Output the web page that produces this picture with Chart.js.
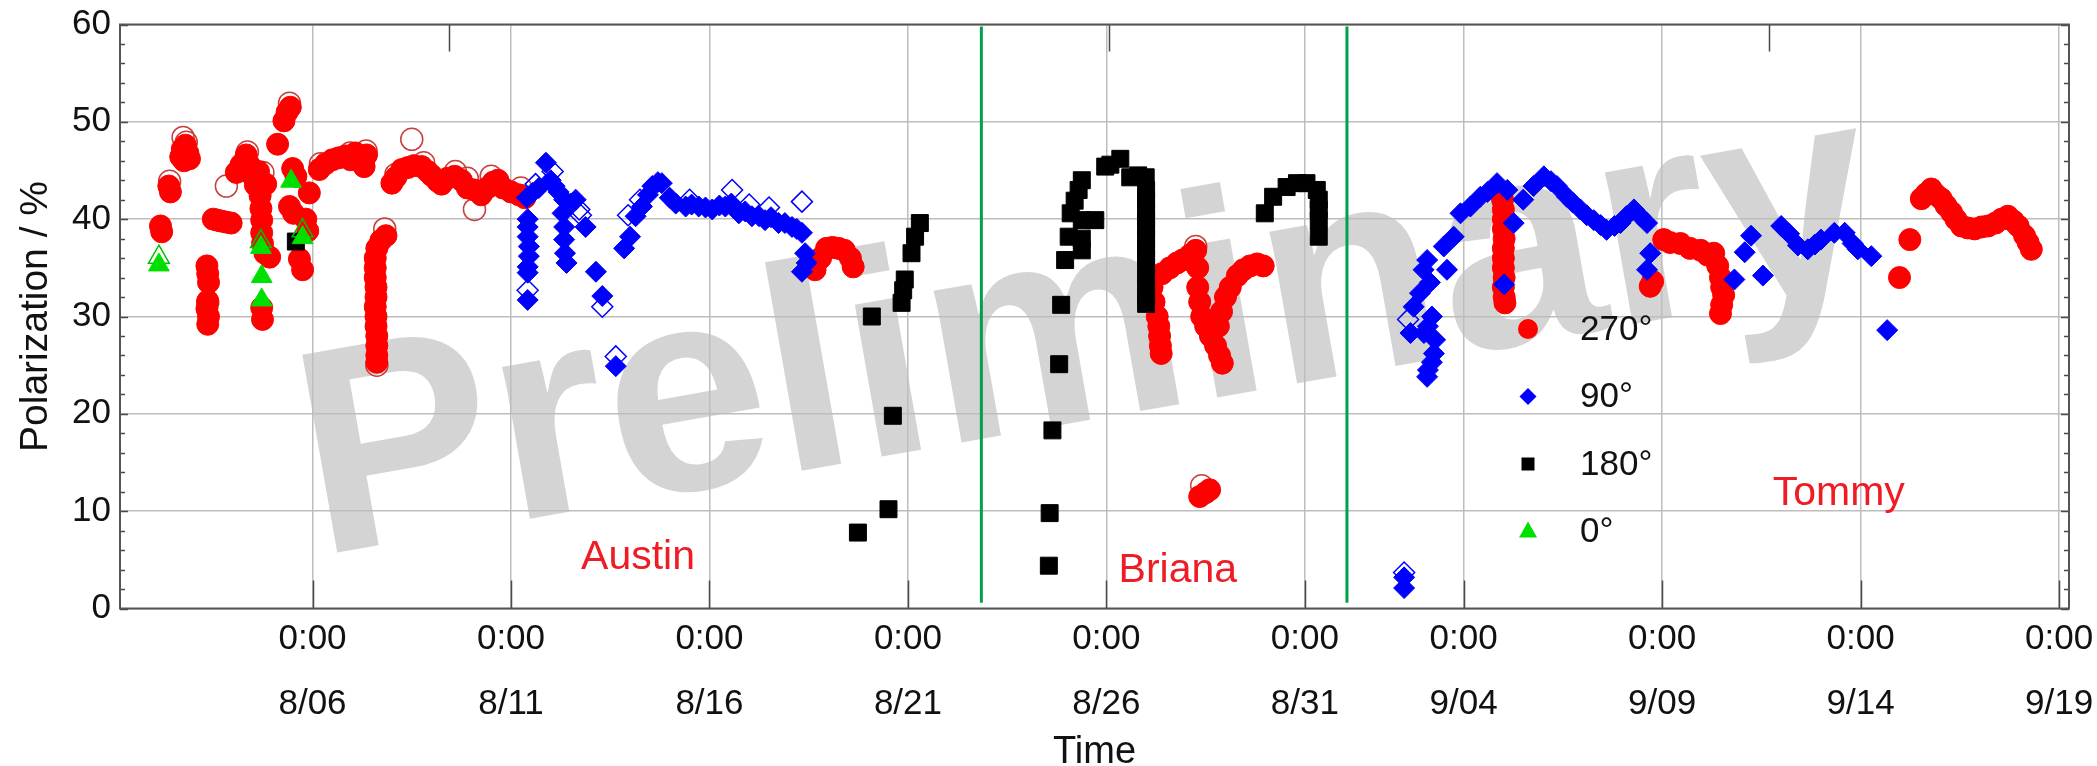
<!DOCTYPE html>
<html>
<head>
<meta charset="utf-8">
<title>Polarization vs time</title>
<script src="https://cdn.jsdelivr.net/npm/chart.js@4.4.1/dist/chart.umd.min.js"></script>
<style>
  html, body { margin: 0; padding: 0; background: #fff; overflow: hidden; }
  canvas { display: block; }
</style>
</head>
<body>
<canvas id="chart" width="2097" height="766"></canvas>
<script>
// Time axis: days counted from 1 August (8/06 -> 6, 9/04 -> 35)
const tickDays  = [6, 11, 16, 21, 26, 31, 35, 40, 45, 50];
const tickDates = ['8/06', '8/11', '8/16', '8/21', '8/26', '8/31', '9/04', '9/09', '9/14', '9/19'];
const tickTime  = '0:00';
const topTickDays = [9.43, 26.06, 42.68];
const boundaryDays = [22.85, 32.06];
const observers = ['Austin', 'Briana', 'Tommy'];
const seriesLabels = ['270°', '90°', '180°', '0°'];

// [day, polarization %]
const pol270 = [
  [2.17,39.3],[2.2,38.7],[2.38,43.4],[2.42,42.8],
  [2.68,46.4],[2.72,47.2],[2.76,46.0],[2.8,47.6],[2.86,46.8],[2.9,46.2],
  [3.34,35.2],[3.36,34.4],[3.38,33.5],[3.36,31.6],[3.34,30.8],[3.38,30.0],[3.36,29.2],
  [3.5,40.0],[3.6,39.9],[3.7,39.8],[3.82,39.7],[3.95,39.6],
  [4.08,44.8],[4.2,45.6],[4.33,46.6],[4.42,45.5],[4.5,44.4],[4.56,43.5],
  [4.64,44.9],[4.66,43.6],[4.68,42.4],[4.7,41.1],[4.72,39.9],[4.72,38.6],[4.74,37.5],[4.8,36.5],[4.92,36.1],[4.72,30.9],[4.74,29.7],[4.82,43.6],
  [5.12,47.7],[5.28,50.1],[5.36,51.0],[5.44,51.5],[5.42,41.3],[5.52,40.6],[5.58,44.4],[5.5,45.2],[5.67,35.9],[5.75,34.8],[5.83,40.0],[5.92,42.7],[5.88,38.8],
  [6.17,45.1],[6.33,45.7],[6.5,46.1],[6.66,46.3],[6.83,46.5],[6.96,46.1],[7.08,46.8],[7.2,46.0],[7.3,45.4],[7.36,46.6],
  [7.85,38.3],[7.72,37.8],[7.62,37.0],[7.58,36.0],[7.58,35.0],[7.58,34.0],[7.6,33.0],[7.6,32.0],[7.58,31.0],[7.6,30.0],[7.6,29.0],[7.62,28.0],[7.62,27.0],[7.62,26.0],[7.62,25.3],
  [8.0,43.7],[8.1,44.3],[8.25,45.1],[8.4,45.3],[8.55,45.5],[8.75,45.4],[8.9,44.9],[9.0,44.5],[9.15,43.9],[9.25,43.6],[9.4,44.2],[9.58,44.4],[9.75,44.0],[9.9,43.2],[10.08,43.0],[10.25,42.5],[10.4,43.2],[10.55,43.8],[10.67,44.0],[10.8,43.2],[11.0,42.8],[11.2,42.5],[11.35,42.2],
  [18.66,34.8],[18.8,36.0],[18.95,37.0],[19.1,37.1],[19.25,37.0],[19.4,36.8],[19.55,36.0],[19.62,35.1],
  [27.15,33.0],[27.2,31.5],[27.28,30.0],[27.32,29.0],[27.34,28.0],[27.36,27.0],[27.38,26.2],[27.4,34.4],[27.6,35.0],[27.78,35.5],[27.92,35.8],[28.1,36.3],[28.25,36.8],
  [28.3,35.0],[28.3,33.0],[28.35,31.5],[28.4,30.0],[28.5,29.0],[28.62,28.0],[28.75,27.0],[28.85,26.0],[28.92,25.2],
  [28.82,29.0],[28.9,30.5],[29.0,32.0],[29.12,33.0],[29.3,34.2],[29.45,34.8],[29.62,35.2],[29.8,35.4],[29.95,35.2],
  [28.35,11.5],[28.5,11.9],[28.6,12.2],
  [35.98,42.0],[36.0,41.0],[36.0,40.0],[36.0,39.0],[36.02,38.0],[36.0,37.0],[36.0,36.0],[36.0,35.0],[36.02,34.0],[36.0,33.0],[36.02,32.0],[36.04,31.4],
  [39.7,33.1],[39.76,33.6],
  [40.04,37.9],[40.2,37.6],[40.46,37.5],[40.7,37.0],[40.97,36.8],[41.15,36.3],[41.3,36.5],[41.4,35.2],[41.47,34.0],[41.5,33.0],[41.55,32.2],[41.5,31.2],[41.47,30.3],
  [45.98,34.0],[46.24,37.9],[46.53,42.1],[46.65,42.6],[46.78,43.1],[46.9,42.5],[47.03,42.1],[47.15,41.4],[47.29,40.7],[47.4,40.0],[47.54,39.3],[47.7,39.1],[47.87,39.0],
  [48.05,39.2],[48.21,39.3],[48.4,39.6],[48.55,40.0],[48.71,40.3],[48.85,39.8],[48.97,39.3],[49.13,38.3],[49.22,37.6],[49.3,36.9]
];
const pol270Open = [
  [2.4,43.9],[2.74,48.4],[2.82,47.9],[3.36,31.4],[3.83,43.4],[4.36,46.9],[4.75,44.8],[5.42,51.9],
  [6.2,45.7],[6.95,46.8],[7.35,47.0],[7.82,39.0],[7.62,25.0],[8.1,44.6],[8.5,48.2],[8.8,45.8],
  [9.6,44.9],[9.9,44.2],[10.08,41.0],[10.5,44.4],[11.25,43.2],[28.25,37.2],[28.4,12.6]
];
const pol90 = [
  [11.4,42.2],[11.54,42.7],[11.7,43.2],[11.88,45.8],[12.0,44.0],[12.1,43.4],[12.2,42.8],[12.34,42.0],
  [11.42,40.0],[11.42,39.2],[11.42,38.2],[11.45,37.2],[11.45,36.2],[11.42,35.1],[11.42,34.5],[11.42,31.7],
  [12.3,40.6],[12.34,39.2],[12.34,37.9],[12.36,36.5],[12.4,35.5],
  [12.5,41.6],[12.63,42.0],[12.88,39.2],[13.14,34.6],[13.3,32.1],[13.64,24.9],
  [13.85,37.0],[14.0,38.2],[14.14,40.3],[14.3,41.3],[14.45,42.5],[14.56,43.4],[14.7,43.8],[14.8,43.7],
  [15.0,42.2],[15.15,41.6],[15.4,41.3],[15.55,41.5],[15.73,41.3],[15.9,41.2],[16.07,41.0],[16.25,41.4],[16.4,41.3],[16.55,41.6],
  [16.74,40.6],[16.9,40.8],[17.07,40.3],[17.25,40.3],[17.4,39.9],[17.55,40.2],[17.74,39.6],[17.9,39.6],[18.08,39.2],[18.2,39.0],
  [18.33,38.6],[18.41,36.5],[18.45,35.5],[18.33,34.6],
  [33.5,3.2],[33.5,2.1],
  [34.08,23.8],[34.1,24.5],[34.2,25.3],[34.25,26.2],[34.28,27.6],[34.0,28.3],[33.66,28.3],[34.2,30.0],[34.1,29.0],[33.74,31.0],
  [33.9,32.4],[34.15,33.5],[33.99,34.8],[34.08,35.8],[34.58,34.8],[34.5,37.2],[34.75,38.2],[34.92,40.6],[35.17,41.3],[35.42,42.3],
  [35.6,42.8],[35.84,43.7],[36.1,43.0],[36.26,39.6],[36.02,33.3],[36.5,42.0],[36.76,43.4],[37.02,44.4],[37.2,43.9],[37.35,43.4],
  [37.6,42.3],[37.75,41.7],[37.94,41.0],[38.1,40.4],[38.28,39.9],[38.45,39.4],[38.6,38.9],[38.8,39.3],[38.95,39.6],[39.1,40.3],
  [39.29,41.0],[39.45,40.3],[39.62,39.6],[39.7,36.5],[39.62,34.8],
  [41.82,33.8],[42.08,36.6],[42.24,38.3],[42.54,34.2],[43.0,39.3],[43.2,38.5],[43.42,37.3],[43.67,36.9],[43.85,37.4],[44.0,37.9],
  [44.34,38.6],[44.6,38.6],[44.8,37.5],[44.93,36.9],[45.27,36.2],[45.67,28.6]
];
const pol90Open = [
  [11.42,32.7],[11.62,43.6],[12.05,44.9],[12.72,41.0],[12.76,40.4],[13.3,31.0],[13.64,25.9],[13.95,40.4],
  [14.25,42.0],[15.5,42.0],[16.57,43.0],[17.0,41.5],[17.5,41.2],[18.33,41.8],[33.6,29.7],[33.5,3.7]
];
const pol180 = [
  [5.58,37.7],
  [19.74,7.8],[20.09,30.0],[20.51,10.2],[20.62,19.8],[20.84,31.4],[20.88,32.7],[20.92,33.8],[21.09,36.5],[21.18,38.2],[21.3,39.6],
  [24.55,4.4],[24.57,9.8],[24.64,18.3],[24.81,25.1],[24.86,31.2],[24.96,35.8],[25.05,38.2],[25.1,40.6],[25.2,41.9],[25.3,43.0],
  [25.38,44.0],[25.38,39.9],[25.38,36.8],[25.38,38.0],[25.72,39.9],[25.97,45.4],[26.1,45.6],[26.35,46.2],[26.6,44.3],[26.8,44.5],
  [26.99,44.3],[27.0,43.0],[27.0,42.0],[27.0,41.0],[27.0,40.0],[27.0,39.0],[27.0,38.0],[27.0,37.0],[27.0,36.0],[27.0,35.0],
  [27.0,34.0],[27.0,33.0],[27.0,32.0],[27.0,31.3],
  [29.99,40.6],[30.2,42.3],[30.54,43.3],[30.8,43.7],[31.04,43.7],[31.3,43.0],[31.35,42.0],[31.35,41.0],[31.35,39.9],[31.35,38.2]
];
const pol0 = [[2.13,35.3],[4.7,37.1],[4.72,34.1],[4.72,31.7],[5.46,43.9],[5.75,38.1]];
const pol0Open = [[2.13,36.1],[4.7,37.7],[5.75,38.8]];

const FONT = '"Liberation Sans", Arial, Helvetica, sans-serif';
const toPts = arr => arr.map(([x, y]) => ({ x, y }));

const RED = '#ff0000', BLUE = '#0000ff', BLACK = '#000000', GREEN = '#00e000';

const datasets = [
  { label: seriesLabels[3], data: toPts(pol0), pointStyle: 'triangle', pointRadius: 12,
    backgroundColor: GREEN, borderColor: GREEN, borderWidth: 1, order: 0, inLegend: true },
  { label: seriesLabels[3] + ' (open)', data: toPts(pol0Open), pointStyle: 'triangle', pointRadius: 12,
    backgroundColor: 'rgba(0,0,0,0)', borderColor: '#00c000', borderWidth: 1.5, order: 1 },
  { label: seriesLabels[2], data: toPts(pol180), pointStyle: 'rect', pointRadius: 12,
    backgroundColor: BLACK, borderColor: BLACK, borderWidth: 1, order: 2, inLegend: true },
  { label: seriesLabels[1], data: toPts(pol90), pointStyle: 'rectRot', pointRadius: 10.5,
    backgroundColor: BLUE, borderColor: BLUE, borderWidth: 1, order: 3, inLegend: true },
  { label: seriesLabels[1] + ' (open)', data: toPts(pol90Open), pointStyle: 'rectRot', pointRadius: 10.5,
    backgroundColor: 'rgba(0,0,0,0)', borderColor: BLUE, borderWidth: 1.5, order: 4 },
  { label: seriesLabels[0], data: toPts(pol270), pointStyle: 'circle', pointRadius: 11,
    backgroundColor: RED, borderColor: RED, borderWidth: 1, order: 5, inLegend: true },
  { label: seriesLabels[0] + ' (open)', data: toPts(pol270Open), pointStyle: 'circle', pointRadius: 11,
    backgroundColor: 'rgba(0,0,0,0)', borderColor: '#c8403c', borderWidth: 1.5, order: 6 }
];
// observer hand-over boundaries
boundaryDays.forEach(d => datasets.push({
  label: 'boundary', data: [{ x: d, y: 0.6 }, { x: d, y: 59.8 }], showLine: true,
  borderColor: '#00a14b', borderWidth: 3, pointRadius: 0, order: -1
}));

// "Preliminary" stamp behind the data
const watermark = {
  id: 'watermark',
  beforeDraw(chart, args, opts) {
    const { ctx } = chart;
    ctx.save();
    ctx.translate(opts.x, opts.y);
    ctx.rotate(-opts.angle * Math.PI / 180);
    ctx.font = 'bold ' + opts.size + 'px ' + FONT;
    ctx.fillStyle = opts.color;
    ctx.textAlign = 'left';
    ctx.textBaseline = 'alphabetic';
    ctx.fillText(opts.text, 0, 0);
    ctx.restore();
  }
};

// plot frame with inward tick marks
const axisFrame = {
  id: 'axisFrame',
  afterDatasetsDraw(chart) {
    const { ctx, chartArea: { left, right, top, bottom }, scales: { x, y } } = chart;
    ctx.save();
    ctx.strokeStyle = '#4a4a4a';
    ctx.lineWidth = 1.5;
    ctx.beginPath();
    tickDays.forEach(d => {
      const px = Math.round(x.getPixelForValue(d)) + 0.5;
      ctx.moveTo(px, bottom); ctx.lineTo(px, bottom - 28);
    });
    topTickDays.forEach(d => {
      const px = Math.round(x.getPixelForValue(d)) + 0.5;
      ctx.moveTo(px, top); ctx.lineTo(px, top + 27);
    });
    for (let v = 0; v <= 60; v += 2) {
      const py = Math.round(y.getPixelForValue(v)) + 0.5;
      const len = v % 10 === 0 ? 8 : 5;
      ctx.moveTo(left, py); ctx.lineTo(left + len, py);
      ctx.moveTo(right, py); ctx.lineTo(right - len, py);
    }
    ctx.stroke();
    ctx.strokeStyle = '#555';
    ctx.lineWidth = 2;
    ctx.strokeRect(left, top, right - left, bottom - top);
    ctx.restore();
  }
};

// observer names written into the plot
const observerNames = {
  id: 'observerNames',
  afterDatasetsDraw(chart, args, opts) {
    const { ctx, scales: { x, y } } = chart;
    ctx.save();
    ctx.font = opts.size + 'px ' + FONT;
    ctx.fillStyle = opts.color;
    ctx.textAlign = 'center';
    ctx.textBaseline = 'middle';
    opts.items.forEach(it => ctx.fillText(it.text, x.getPixelForValue(it.day), y.getPixelForValue(it.value)));
    ctx.restore();
  }
};

// in-plot legend
function drawMarker(ctx, style, cx, cy, r, color) {
  ctx.fillStyle = color;
  ctx.beginPath();
  if (style === 'circle') {
    ctx.arc(cx, cy, r, 0, Math.PI * 2);
  } else if (style === 'rectRot') {
    ctx.moveTo(cx, cy - r); ctx.lineTo(cx + r, cy); ctx.lineTo(cx, cy + r); ctx.lineTo(cx - r, cy);
  } else if (style === 'rect') {
    ctx.rect(cx - r, cy - r, 2 * r, 2 * r);
  } else if (style === 'triangle') {
    ctx.moveTo(cx, cy - r); ctx.lineTo(cx + r * 0.9, cy + r * 0.6); ctx.lineTo(cx - r * 0.9, cy + r * 0.6);
  }
  ctx.closePath();
  ctx.fill();
}
const insideLegend = {
  id: 'insideLegend',
  afterDatasetsDraw(chart, args, opts) {
    const { ctx } = chart;
    const items = chart.data.datasets.filter(ds => ds.inLegend)
      .sort((a, b) => seriesLabels.indexOf(a.label) - seriesLabels.indexOf(b.label));
    const sizes = { circle: 10, rectRot: 8.5, rect: 6.5, triangle: 10 };
    ctx.save();
    ctx.font = opts.size + 'px ' + FONT;
    ctx.textAlign = 'left';
    ctx.textBaseline = 'middle';
    items.forEach((ds, i) => {
      const cy = opts.y + i * opts.step;
      drawMarker(ctx, ds.pointStyle, opts.x, cy, sizes[ds.pointStyle], ds.backgroundColor);
      ctx.fillStyle = '#111';
      ctx.fillText(ds.label, opts.textX, cy + 1);
    });
    ctx.restore();
  }
};

new Chart(document.getElementById('chart'), {
  type: 'scatter',
  data: { datasets },
  options: {
    responsive: false,
    animation: false,
    devicePixelRatio: 1,
    layout: { padding: { left: 0, right: 28, top: 24.5, bottom: 0 } },
    plugins: {
      legend: { display: false },
      tooltip: { enabled: false },
      watermark: { text: 'Preliminary', x: 318, y: 556, angle: 10, size: 292, color: '#d4d4d4' },
      observerNames: {
        size: 41, color: '#ee1c25',
        items: [
          { text: observers[0], day: 14.2, value: 5.2 },
          { text: observers[1], day: 27.8, value: 3.85 },
          { text: observers[2], day: 44.45, value: 11.8 }
        ]
      },
      insideLegend: { x: 1528, textX: 1580, y: 329, step: 67.5, size: 35 }
    },
    scales: {
      x: {
        type: 'linear',
        min: 1.15, max: 50.25,
        afterBuildTicks: s => { s.ticks = tickDays.map(v => ({ value: v })); },
        afterFit: s => { s.height = 157.5; s.paddingLeft = 0; s.paddingRight = 0; },
        ticks: {
          callback: (v, i) => [tickTime, tickDates[i]],
          font: { family: FONT, size: 35, lineHeight: 1.84 },
          color: '#111', padding: -1, maxRotation: 0, autoSkip: false
        },
        grid: { color: '#bdbdbd', lineWidth: 1.5, drawTicks: false },
        border: { display: false },
        title: { display: true, text: 'Time', font: { family: FONT, size: 38, lineHeight: 0.7 }, color: '#111', padding: 0 }
      },
      y: {
        min: 0, max: 60,
        afterFit: s => { s.width = 120; s.paddingTop = 0; s.paddingBottom = 0; },
        ticks: { stepSize: 10, font: { family: FONT, size: 35 }, color: '#111', padding: 9 },
        grid: { color: '#bdbdbd', lineWidth: 1.5, drawTicks: false },
        border: { display: false },
        title: { display: true, text: 'Polarization / %', font: { family: FONT, size: 39 }, color: '#111', padding: { top: 13, bottom: 0 } }
      }
    }
  },
  plugins: [watermark, axisFrame, observerNames, insideLegend]
});
</script>
</body>
</html>
